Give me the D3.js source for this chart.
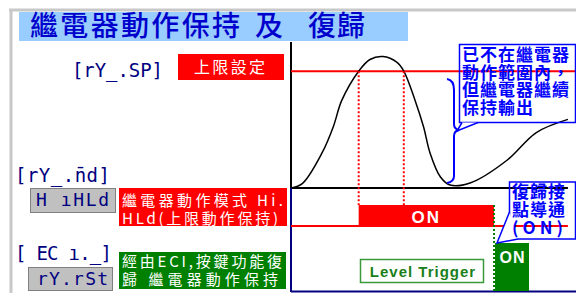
<!DOCTYPE html>
<html>
<head>
<meta charset="utf-8">
<script src="https://cdn.jsdelivr.net/npm/d3@7"></script>
<style>
  body { margin: 0; background: #fff; }
  svg { display: block; }
</style>
</head>
<body>
<div id="viz"></div>
<script>
// process value curve (time 0-100, value 0-100)
var timeVals = [0, 4, 11, 15, 18, 24, 28, 32.6, 37.6, 40, 44, 47, 49.3, 53, 56.4, 63.5, 76.6, 87, 98.2];
var pvVals   = [0, 3, 24, 42, 60, 80, 88, 90, 86, 80, 60, 42, 24, 7.5, 2, 3.4, 19, 38, 47];
var spValue = 80;
var crossTimes = [24, 40];

// outputs
var holdOn = [24, 72];      // relay hold output ON span
var resetOn = [72, 84.4];   // ECI reset pulse span

// texts
var titleParts = ["繼電器動作保持", "及", "復歸"];
var noteLines = ["已不在繼電器", "動作範圍內，", "但繼電器繼續", "保持輸出"];
var resetNote = ["復歸接", "點導通", "(ON)"];
var spLabel = "[rY_.SP]", spBox = "上限設定";
var modeLabel = "[rY_.n\u0304d]", modeValue = "H \u0131HLd";
var modeDesc = ["繼電器動作模式 Hi.", "HLd(上限動作保持)"];
var eciLabel = "[ EC \u0131._]", eciValue = "rY.rSt";
var eciDesc = ["經由ECI,按鍵功能復", "歸 繼電器動作保持"];

var width = 576, height = 293;
var cjk = "'Noto Sans CJK TC', 'Noto Sans CJK SC', sans-serif";
var mono = "'DejaVu Sans Mono', monospace";

var svg = d3.select("#viz").append("svg")
    .attr("width", width)
    .attr("height", height);

var x = d3.scaleLinear().domain([0, 100]).range([291, 573]);
var y = d3.scaleLinear().domain([0, 100]).range([188, 42]);
var yHold = d3.scaleLinear().domain([0, 1]).range([226, 205]);
var yReset = d3.scaleLinear().domain([0, 1]).range([291, 243]);

// frame
svg.append("line").attr("x1", 9).attr("y1", 10).attr("x2", 576).attr("y2", 10)
    .style("stroke", "#c8c8c8").style("stroke-width", 3);
svg.append("line").attr("x1", 11).attr("y1", 9).attr("x2", 11).attr("y2", 293)
    .style("stroke", "#c8c8c8").style("stroke-width", 3);

// title
svg.append("rect").attr("x", 19).attr("y", 12).attr("width", 389).attr("height", 29)
    .style("fill", "#99ccff");
var titleX = [30, 255, 308], titleLen = [210, 30, 57];
svg.selectAll("text.title").data(titleParts).enter().append("text")
    .attr("class", "title")
    .attr("x", function(d, i) { return titleX[i]; })
    .attr("y", 36)
    .attr("textLength", function(d, i) { return titleLen[i]; })
    .attr("lengthAdjust", "spacing")
    .style("font-family", cjk).style("font-size", "28px").style("font-weight", 500)
    .style("fill", "#0000cc")
    .text(function(d) { return d; });

// axes of the PV chart
svg.append("line").attr("x1", x(0)).attr("y1", y(100)).attr("x2", x(0)).attr("y2", y(0))
    .style("stroke", "#000").style("stroke-width", 2);
svg.append("line").attr("x1", x(0)).attr("y1", y(0)).attr("x2", x(98.2)).attr("y2", y(0))
    .style("stroke", "#000").style("stroke-width", 2);

// SP line
svg.append("line").attr("x1", x(0)).attr("y1", y(spValue)).attr("x2", width).attr("y2", y(spValue))
    .style("stroke", "#ff0000").style("stroke-width", 2);

// PV curve
var pts = timeVals.map(function(t, i) { return [t, pvVals[i]]; });
var line = d3.line()
    .x(function(d) { return x(d[0]); })
    .y(function(d) { return y(d[1]); })
    .curve(d3.curveCatmullRom);
svg.append("path").datum(pts).attr("d", line)
    .style("fill", "none").style("stroke", "#000").style("stroke-width", 1.5);

// red dotted drops
svg.selectAll("line.drop").data(crossTimes).enter().append("line")
    .attr("class", "drop")
    .attr("x1", function(d) { return x(d); }).attr("x2", function(d) { return x(d); })
    .attr("y1", y(spValue)).attr("y2", yHold(1))
    .style("stroke", "#ff0000").style("stroke-width", 2).style("stroke-dasharray", "2,2");

// lower frame
svg.append("line").attr("x1", x(0)).attr("y1", y(0)).attr("x2", x(0)).attr("y2", 292)
    .style("stroke", "#000080").style("stroke-width", 2);
svg.append("line").attr("x1", x(0)).attr("y1", 291.5).attr("x2", width).attr("y2", 291.5)
    .style("stroke", "#000080").style("stroke-width", 2);

// hold output
svg.append("line").attr("x1", x(0)).attr("y1", yHold(0)).attr("x2", x(98.2)).attr("y2", yHold(0))
    .style("stroke", "#ff0000").style("stroke-width", 2);
svg.append("rect")
    .attr("x", x(holdOn[0])).attr("y", yHold(1))
    .attr("width", x(holdOn[1]) - x(holdOn[0])).attr("height", yHold(0) - yHold(1))
    .style("fill", "#ff0000");
svg.append("text")
    .attr("x", (x(holdOn[0]) + x(holdOn[1])) / 2).attr("y", 223)
    .attr("text-anchor", "middle")
    .style("font-family", "'Liberation Sans', Arial, sans-serif").style("font-size", "17px")
    .style("font-weight", "bold").style("letter-spacing", "2px").style("fill", "#fff")
    .text("ON");

// reset pulse
svg.append("line").attr("x1", x(resetOn[0])).attr("x2", x(resetOn[0]))
    .attr("y1", yHold(1)).attr("y2", yReset(0))
    .style("stroke", "#008000").style("stroke-width", 2).style("stroke-dasharray", "2,2");
svg.append("rect")
    .attr("x", x(resetOn[0]) + 1).attr("y", yReset(1))
    .attr("width", x(resetOn[1]) - x(resetOn[0]) - 1).attr("height", yReset(0) - yReset(1))
    .style("fill", "#008000");
svg.append("text")
    .attr("x", (x(resetOn[0]) + x(resetOn[1])) / 2 + 1).attr("y", 263)
    .attr("text-anchor", "middle")
    .style("font-family", "'Liberation Sans', Arial, sans-serif").style("font-size", "16px")
    .style("font-weight", "bold").style("letter-spacing", "1px").style("fill", "#fff")
    .text("ON");

// Level Trigger box
svg.append("rect").attr("x", 360.5).attr("y", 259.5).attr("width", 123).attr("height", 23)
    .style("fill", "#fff").style("stroke", "#3a9a3a").style("stroke-width", 1.5);
svg.append("text").attr("x", 423).attr("y", 277).attr("text-anchor", "middle")
    .style("font-family", "'Liberation Sans', Arial, sans-serif").style("font-size", "15px")
    .style("font-weight", "bold").style("letter-spacing", "1px").style("fill", "#1a801a")
    .text("Level Trigger");

// brace
svg.append("path")
    .attr("d", "M447,79 Q454,80 454,90 L454,124 Q454,129 459,130 Q454,131 454,136 L454,176 Q454,182 447,183")
    .style("fill", "none").style("stroke", "#0000ff").style("stroke-width", 2);

// callout 1
svg.append("rect").attr("x", 459.5).attr("y", 44.5).attr("width", 116).attr("height", 78)
    .style("fill", "none").style("stroke", "#0000ff").style("stroke-width", 1.5);
svg.append("path").attr("d", "M462,122.5 L457,131 L478,122.5 Z").style("fill", "#fff");
svg.append("path").attr("d", "M462,122.5 L457,131 L478,122.5")
    .style("fill", "none").style("stroke", "#0000ff").style("stroke-width", 1.5);
svg.selectAll("text.note").data(noteLines).enter().append("text")
    .attr("class", "note")
    .attr("x", 462).attr("y", function(d, i) { return 61 + i * 17.5; })
    .style("font-family", cjk).style("font-size", "17px").style("font-weight", "bold")
    .style("letter-spacing", "1px").style("fill", "#0000ff")
    .text(function(d) { return d; });

// callout 2
svg.append("rect").attr("x", 509.5).attr("y", 182).attr("width", 66).attr("height", 57)
    .style("fill", "none").style("stroke", "#0000ff").style("stroke-width", 1.5);
svg.append("path").attr("d", "M509.5,212 L497,243 L518,239 Z").style("fill", "#fff");
svg.append("path").attr("d", "M509.5,212 L497,243 L518,239")
    .style("fill", "none").style("stroke", "#0000ff").style("stroke-width", 1.5);
svg.selectAll("text.rnote").data(resetNote).enter().append("text")
    .attr("class", "rnote")
    .attr("x", 512).attr("y", function(d, i) { return 198 + i * 18; })
    .attr("textLength", function(d, i) { return i == 2 ? 52 : null; })
    .style("font-family", cjk).style("font-size", "17px").style("font-weight", "bold")
    .style("letter-spacing", "1px").style("fill", "#0000ff")
    .text(function(d) { return d; });

// left side: parameter labels
function segText(str, xx, yy, len, size) {
  svg.append("text").attr("x", xx).attr("y", yy)
      .attr("textLength", len).attr("lengthAdjust", "spacing")
      .style("font-family", mono).style("font-size", size + "px")
      .style("fill", "#000080")
      .text(str);
}
function grayBox(xx, yy, w, h) {
  svg.append("rect").attr("x", xx + 0.5).attr("y", yy + 0.5).attr("width", w).attr("height", h)
      .style("fill", "#c0c0c0").style("stroke", "#808080").style("stroke-width", 1);
}
function colorBox(xx, yy, w, h, fill, lines, lens, y0, dy) {
  svg.append("rect").attr("x", xx).attr("y", yy).attr("width", w).attr("height", h)
      .style("fill", fill);
  lines.forEach(function(s, i) {
    svg.append("text").attr("x", xx + 3).attr("y", y0 + i * dy)
        .attr("textLength", lens[i]).attr("lengthAdjust", "spacing")
        .style("font-family", cjk).style("font-size", "15px").style("fill", "#fff")
        .text(s);
  });
}

segText(spLabel, 72, 77, 91, 19);
svg.append("rect").attr("x", 178).attr("y", 54).attr("width", 106).attr("height", 26)
    .style("fill", "#ff0000");
svg.append("text").attr("x", 194).attr("y", 73).attr("textLength", 71).attr("lengthAdjust", "spacing")
    .style("font-family", cjk).style("font-size", "16px").style("fill", "#fff")
    .text(spBox);

segText(modeLabel, 15, 182, 95, 19);
grayBox(30, 188, 85, 24);
segText(modeValue, 36, 206, 73, 18);
colorBox(119, 188, 168, 38, "#ff0000", modeDesc, [161, 156], 206, 17.5);

segText(eciLabel, 15, 260, 97, 19);
grayBox(28, 267, 84, 23);
segText(eciValue, 37, 285, 71, 18);
colorBox(119, 252, 167, 37, "#008000", eciDesc, [160, 156], 267, 17.5);
</script>
</body>
</html>
